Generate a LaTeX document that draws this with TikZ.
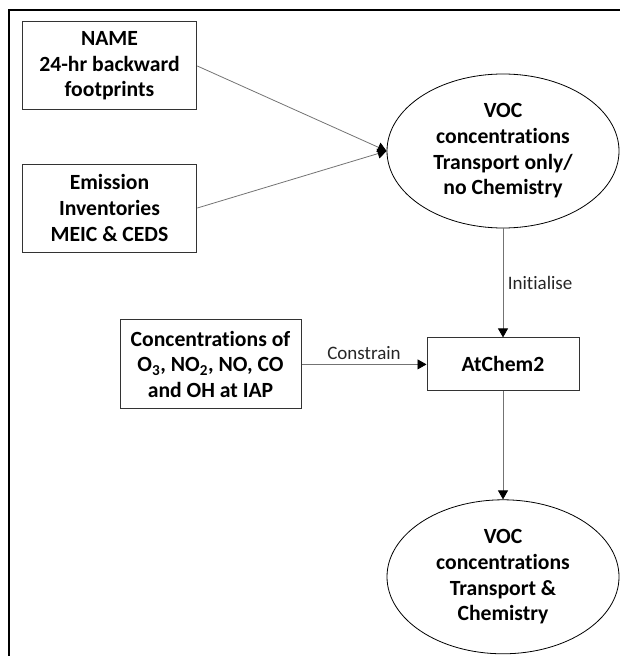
\documentclass[tikz,border=0pt]{standalone}
\usepackage{fontspec}
\setmainfont{Carlito}[Ligatures=NoCommon]
\usetikzlibrary{positioning}
\usetikzlibrary{shapes.geometric}
\usetikzlibrary{arrows.meta}
\tikzstyle{srcnode} = [draw=black!80, rectangle, line width=0.75pt, minimum width=131pt, minimum height=66pt, align=center, font=\fontsize{16.25}{19.25}\selectfont\bfseries]
\tikzstyle{modnode} = [draw=black!80, rectangle, line width=0.75pt, minimum width=114pt, minimum height=39.75pt, font=\fontsize{16.25}{19.25}\selectfont\bfseries]
\tikzstyle{vocnode} = [draw, ellipse, line width=0.6pt, minimum width=174pt, minimum height=115.5pt, inner sep=0pt, align=center, font=\fontsize{16.25}{19.25}\selectfont\bfseries]
\tikzstyle{flow} = [draw=black!55, line width=0.6pt, -{Triangle[length=6.75pt, width=7.5pt, color=black]}]
\tikzstyle{lbl} = [font=\fontsize{14.25}{17}\selectfont, text=black!85]

\begin{document}
\begin{tikzpicture}[x=0.75pt, y=-0.75pt]
  \useasboundingbox (0,0) rectangle (620,656);
  \draw[line width=1pt] (620,10) -- (9,10) -- (9,656);

  \node[vocnode] (voc_t) at (503,151) {VOC\\concentrations\\Transport only/\\no Chemistry};
  \node[srcnode] (name) at (109.5,66) {NAME\\24-hr backward\\footprints};
  \node[srcnode, below=39.75pt of name] (emis) {Emission\\Inventories\\MEIC \& CEDS};
  \node[modnode, below=81.75pt of voc_t] (atchem) {AtChem2};
  \node[srcnode, left=93.75pt of atchem, minimum width=135.75pt, minimum height=66.75pt] (conc) {Concentrations of\\O\textsubscript{3}, NO\textsubscript{2}, NO, CO\\and OH at IAP};
  \node[vocnode, below=81pt of atchem] (voc_c) {VOC\\concentrations\\Transport \&\\Chemistry};

  \draw[flow] (name.east) -- (voc_t.west);
  \draw[flow] (emis.east) -- (voc_t.west);
  \draw[flow] (voc_t) -- node[lbl, right] {Initialise} (atchem);
  \draw[flow] (conc) -- node[lbl, above] {Constrain} (atchem);
  \draw[flow] (atchem) -- (voc_c);
\end{tikzpicture}
\end{document}
